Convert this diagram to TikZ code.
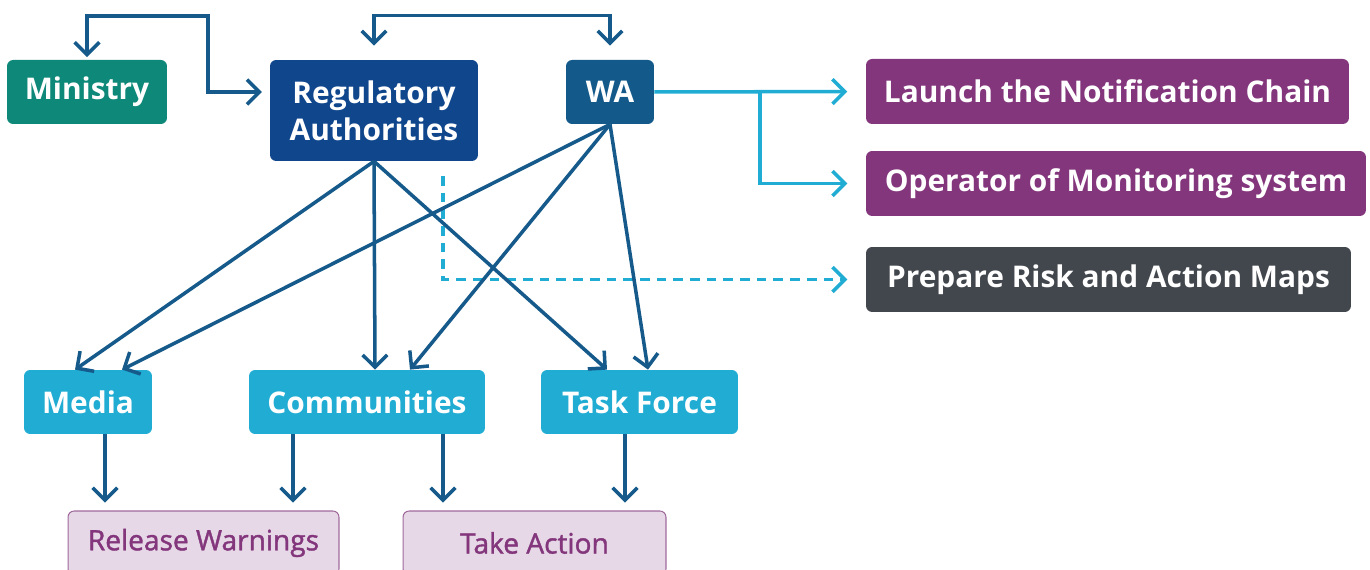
\documentclass[tikz,border=0pt]{standalone}
\usepackage{fontspec}
\setmainfont{Open Sans}
\newfontfamily\medfont{Open Sans}[FakeBold=1.4]
\usetikzlibrary{arrows.meta,positioning}

\definecolor{teal}{HTML}{0E8878}
\definecolor{regblue}{HTML}{10468C}
\definecolor{wablue}{HTML}{13598A}
\definecolor{linkblue}{HTML}{155A8A}
\definecolor{sky}{HTML}{20ACD3}
\definecolor{plum}{HTML}{83367C}
\definecolor{slate}{HTML}{42474D}
\definecolor{lilac}{HTML}{E6D8E6}
\definecolor{lilacline}{HTML}{A06A9C}

\begin{document}
\begin{tikzpicture}[x=0.02cm,y=-0.02cm,
	>={Straight Barb[length=7pt,width=14pt]},
	box/.style={rounded corners=3.5pt,text=white,inner sep=0pt,align=center,
		minimum height=1.28cm,font=\bfseries\fontsize{17}{21}\selectfont},
	task/.style={box,fill=lilac,draw=lilacline,line width=0.6pt,text=plum,
		font=\medfont\fontsize{16}{21}\selectfont},
	link/.style={draw=linkblue,line width=2pt,->},
	skylink/.style={link,draw=sky}]

\useasboundingbox (0,0) rectangle (1370,570);

% top row
\node[box,fill=teal,minimum width=3.2cm] (min) at (87,92) {Ministry};
\node[box,fill=regblue,minimum width=4.16cm,minimum height=2.02cm] (reg) at (374,110.5) {Regulatory\\Authorities};
\node[box,fill=wablue,minimum width=1.76cm] (wa) at (610,92) {WA};

% tasks on the right
\node[box,fill=plum,minimum width=9.66cm,minimum height=1.3cm] (lau) at (1107.5,91.5) {Launch the Notification Chain};
\node[box,fill=plum,minimum width=10cm,minimum height=1.3cm] (ope) at (1116,183.5) {Operator of Monitoring system};
\node[box,fill=slate,minimum width=9.7cm,minimum height=1.3cm] (pre) at (1108.5,279.5) {Prepare Risk and Action Maps};

% middle row
\node[box,fill=sky,minimum width=2.56cm] (med) at (88,402) {Media};
\node[box,fill=sky,minimum width=4.72cm] (com) at (367,402) {Communities};
\node[box,fill=sky,minimum width=3.94cm] (tf) at (639.5,402) {Task Force};

% bottom row
\node[task,minimum width=5.42cm] (rw) at (203.5,543) {Release Warnings};
\node[task,minimum width=5.26cm] (ta) at (534.5,543) {Take Action};

\coordinate (mbend) at (208,16);
\coordinate (fork) at (760,92);
\coordinate (dtop) at (443,176);

\draw[link,<->,shorten <=1.5pt,shorten >=4.5pt] (min.north) |- (mbend) |- (reg.west |- min.east);
\draw[link,<->,shorten <=8pt,shorten >=8pt] (reg.north) -- ++(0,-44) -| (wa.north);

\draw[skylink,shorten >=10.5pt] (wa.east) -- (lau.west);
\draw[skylink,shorten >=10.5pt] (fork) |- (ope.west);
\draw[skylink,dash pattern=on 5.5pt off 4pt,shorten >=10.5pt] (dtop) |- (pre.west);

\foreach \to/\dx in {med/75,com/375,tf/607}
	\draw[link] (reg.south) -- (\to.north -| \dx,0);
\foreach \to/\dx in {med/122,com/410,tf/648}
	\draw[link] (wa.south) -- (\to.north -| \dx,0);

\foreach \from/\to/\dx in {med/rw/105,com/rw/293,com/ta/443,tf/ta/625}
	\draw[link,shorten >=4.5pt] (\from.south -| \dx,0) -- (\to.north -| \dx,0);

\end{tikzpicture}
\end{document}
